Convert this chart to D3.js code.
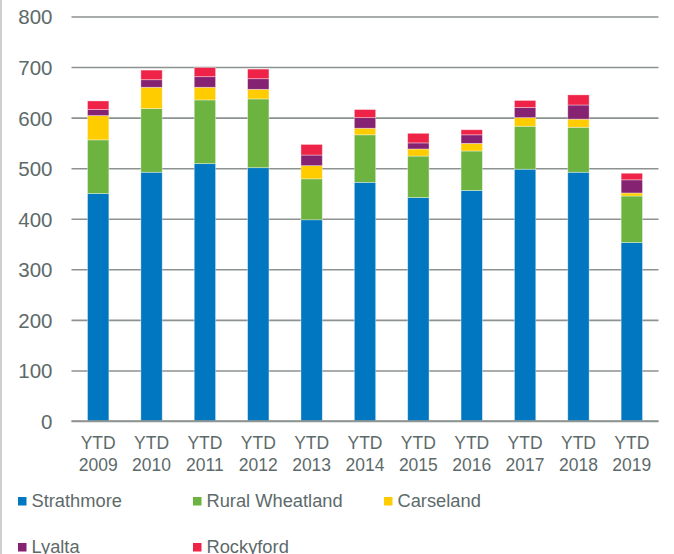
<!DOCTYPE html>
<html><head><meta charset="utf-8">
<script src="https://cdn.jsdelivr.net/npm/d3@7"></script>
<style>html,body{margin:0;padding:0;background:#fff;}svg{display:block;}</style>
</head><body>
<svg id="chart" width="674" height="554"></svg>
<script>
const categories = ["2009","2010","2011","2012","2013","2014","2015","2016","2017","2018","2019"];
const seriesNames = ["Strathmore","Rural Wheatland","Carseland","Lyalta","Rockyford"];
const strathmore     = [450, 492, 509, 501, 398, 472, 442, 456, 498, 492, 353];
const ruralWheatland = [106, 126, 126, 136,  81,  94,  82,  78,  85,  89,  92];
const carseland      = [ 48,  42,  25,  19,  26,  13,  14,  15,  17,  16,   6];
const lyalta         = [ 12,  15,  21,  21,  21,  21,  12,  17,  20,  28,  26];
const rockyford      = [ 17,  19,  18,  19,  21,  16,  19,  10,  14,  20,  13];
const yTicks = [0,100,200,300,400,500,600,700,800];
const colors = ["#0077c0","#6db33f","#ffcc00","#862272","#ee2347"];

const seriesValues = [strathmore, ruralWheatland, carseland, lyalta, rockyford];
const table = categories.map((c,i)=>{
  const o = {cat:c};
  seriesNames.forEach((s,j)=>o[s]=seriesValues[j][i]);
  return o;
});

const svg = d3.select("#chart");
const textColor = "#5d6a6a";
const gridColor = "#8b9290";
const mLeft = 71.5, mRight = 658.5, mTop = 16.5, mBottom = 421;

// left border
svg.append("line").attr("x1",1).attr("x2",1).attr("y1",0).attr("y2",554)
  .attr("stroke","#cfcfcf").attr("stroke-width",2);

const x = d3.scaleBand().domain(categories).range([mLeft,mRight]).paddingInner(0.6).paddingOuter(0.3);
const y = d3.scaleLinear().domain([0,800]).range([mBottom,mTop]);

// grid
const yAxis = d3.axisLeft(y).tickValues(yTicks).tickSize(-(mRight-mLeft)).tickPadding(19);
const gy = svg.append("g").attr("transform",`translate(${mLeft},0)`).call(yAxis);
gy.select(".domain").remove();
gy.selectAll(".tick line").attr("stroke",gridColor).attr("stroke-width",1.6);
gy.selectAll(".tick text").attr("fill",textColor)
  .style("font-family","'Liberation Sans', Arial, sans-serif").style("font-size","20.5px")
  .attr("dy","0.36em");

const stack = d3.stack().keys(seriesNames)(table);
svg.append("g").selectAll("g").data(stack).join("g")
  .attr("fill",(d,i)=>colors[i])
  .selectAll("rect").data(d=>d).join("rect")
  .attr("x",d=>x(d.data.cat))
  .attr("width",x.bandwidth())
  .attr("y",d=>y(d[1]))
  .attr("height",d=>y(d[0])-y(d[1]))
  .attr("stroke","rgba(255,255,255,0.45)").attr("stroke-width",0.8);

// x axis line
svg.append("line").attr("x1",mLeft).attr("x2",mRight).attr("y1",y(0)).attr("y2",y(0))
  .attr("stroke",gridColor).attr("stroke-width",1.6);

// x labels
const xl = svg.append("g").selectAll("text").data(categories).join("text")
  .attr("x",d=>x(d)+x.bandwidth()/2)
  .attr("text-anchor","middle").attr("fill",textColor)
  .style("font-family","'Liberation Sans', Arial, sans-serif").style("font-size","17.5px");
xl.append("tspan").attr("x",d=>x(d)+x.bandwidth()/2).attr("y",449.3).text("YTD");
xl.append("tspan").attr("x",d=>x(d)+x.bandwidth()/2).attr("y",470.7).text(d=>d);

// legend
const legendPos = [[18,497],[193,497],[384,497],[18,543],[193,543]];
const lg = svg.append("g").selectAll("g").data(seriesNames).join("g")
  .attr("transform",(d,i)=>`translate(${legendPos[i][0]},${legendPos[i][1]})`);
lg.append("rect").attr("width",8.5).attr("height",8.5).attr("fill",(d,i)=>colors[i]);
lg.append("text").attr("x",13.5).attr("y",9.7).text(d=>d).attr("fill",textColor)
  .style("font-family","'Liberation Sans', Arial, sans-serif").style("font-size","18.3px");
</script>
</body></html>
